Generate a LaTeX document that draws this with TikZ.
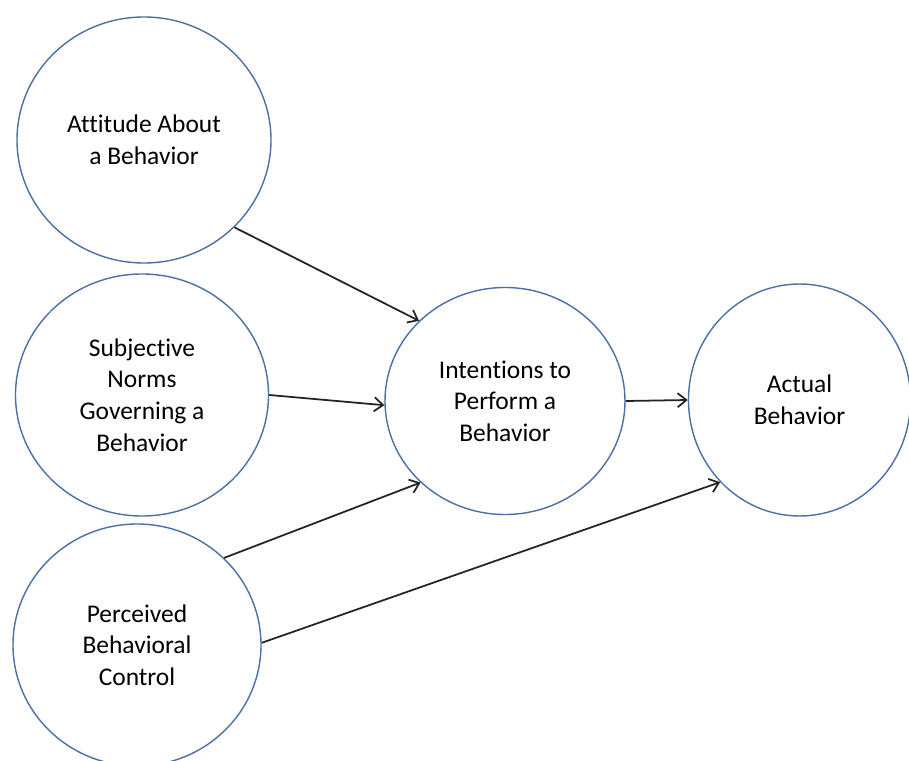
\documentclass[tikz,border=0pt]{standalone}
\usepackage{fontspec}
\setmainfont{Carlito}[Ligatures=NoCommon]
\usepackage{tikz}
\usetikzlibrary{positioning}
\usetikzlibrary{shapes.geometric}
\usetikzlibrary{arrows.meta}

\definecolor{rimblue}{RGB}{74,112,165}
\definecolor{linkgray}{RGB}{35,35,35}

\tikzset{
	construct/.style={ellipse, draw=rimblue, line width=0.8pt, inner sep=0pt, align=center,
		font=\fontsize{14.5}{18}\selectfont},
	link/.style={-{Straight Barb[length=5pt,width=8pt]}, draw=linkgray, line width=1pt}
}

\begin{document}
\begin{tikzpicture}
		\useasboundingbox (0,0) rectangle (18.18,15.2);
		\clip (0,0) rectangle (18.18,15.2);
		% left column
		\node[construct, minimum width=5.08cm, minimum height=4.92cm] (attitude) at (2.88,12.4) {Attitude About\\a Behavior};
		\node[construct, minimum width=5.06cm, minimum height=4.84cm] (norms) at (2.84,7.3) {Subjective\\Norms\\Governing a\\Behavior};
		\node[construct, minimum width=4.96cm, minimum height=4.84cm] (control) at (2.74,2.3) {Perceived\\Behavioral\\Control};
		% middle and right
		\node[construct, minimum width=4.8cm, minimum height=4.54cm] (intention) at (10.1,7.18) {Intentions to\\Perform a\\Behavior};
		\node[construct, minimum width=4.44cm, minimum height=4.64cm] (behavior) at (15.99,7.2) {Actual\\Behavior};
		% arrows
		\draw[link] (attitude.-44) -- (intention.137);
		\draw[link] (norms.0) -- (intention.182);
		\draw[link] (control.45) -- (intention.224);
		\draw[link] (intention.0) -- (behavior.180);
		\draw[link] (control.1) -- (behavior.226);
\end{tikzpicture}
\end{document}
